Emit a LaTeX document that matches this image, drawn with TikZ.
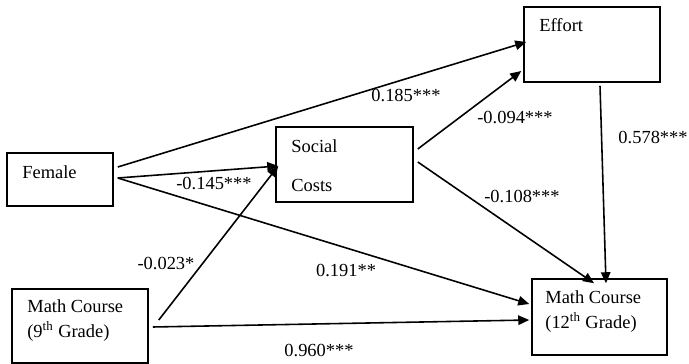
\documentclass[tikz,border=0pt]{standalone}
\usepackage{fontspec}
\setmainfont{Liberation Serif}
\usetikzlibrary{arrows.meta}

\begin{document}
\begin{tikzpicture}[
    x=0.02cm, y=-0.02cm,
    box/.style={rectangle, draw=black, line width=0.9pt, inner sep=0pt},
    txt/.style={inner sep=0pt, anchor=west, align=left, font=\fontsize{10.5}{14}\selectfont},
    coef/.style={inner sep=0pt, font=\fontsize{10.5}{12}\selectfont},
    arrow/.style={-{Triangle[length=0.22cm, width=0.19cm]}, line width=0.9pt, black}
]
\useasboundingbox (0,0) rectangle (689,364);

% Boxes
\node[box, minimum width=2.12cm, minimum height=1.06cm] (female) at (60,179.5) {};
\node[box, minimum width=2.72cm, minimum height=1.48cm] (math9) at (80,326) {};
\node[box, minimum width=2.74cm, minimum height=1.50cm] (social) at (344.5,164.5) {};
\node[box, minimum width=2.72cm, minimum height=1.50cm] (effort) at (592,44.5) {};
\node[box, minimum width=2.70cm, minimum height=1.52cm] (math12) at (599.5,317) {};

% Box texts
\node[txt] (female-t) at (22,172) {Female};
\node[txt] (social-t) at (291,146) {Social};
\node[txt] (costs-t) at (291,185) {Costs};
\node[txt] (effort-t) at (539,25) {Effort};
\node[txt] (math9-t) at (27,320.5) {Math Course\\(9\textsuperscript{th} Grade)};
\node[txt] (math12-t) at (545,311.5) {Math Course\\(12\textsuperscript{th} Grade)};

% Arrows
\draw[arrow] ([shift={(4,-12.5)}]female.east) -- ([shift={(3,-2.5)}]effort.west);
\draw[arrow] ([shift={(4,-1.5)}]female.east) -- ([shift={(3,1.5)}]social.west);
\draw[arrow] ([shift={(4,-1.5)}]female.east) -- ([shift={(-2,-13)}]math12.west);
\draw[arrow] ([shift={(10,-6)}]math9.east) -- ([shift={(3,1.5)}]social.west);
\draw[arrow] ([shift={(4,1)}]math9.east) -- ([shift={(-2,3)}]math12.west);
\draw[arrow] ([shift={(4,-15.5)}]social.east) -- ([shift={(-2,26.5)}]effort.west);
\draw[arrow] ([shift={(4,-2.5)}]social.east) -- ([shift={(-5.5,5)}]math12.north);
\draw[arrow] ([shift={(8,3)}]effort.south) -- ([shift={(6.5,5)}]math12.north);

% Coefficients
\node[coef] (c-fe) at (406,95) {0.185***};
\node[coef] (c-fs) at (214,183) {-0.145***};
\node[coef] (c-ms) at (166,263) {-0.023*};
\node[coef] (c-fm) at (346,270) {0.191**};
\node[coef] (c-mm) at (319,350) {0.960***};
\node[coef] (c-se) at (515,117) {-0.094***};
\node[coef] (c-sm) at (522,196) {-0.108***};
\node[coef, anchor=east] (c-em) at (688,137) {0.578***};

\end{tikzpicture}
\end{document}
